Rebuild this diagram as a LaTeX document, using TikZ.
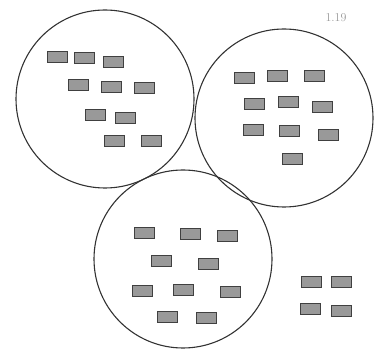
\documentclass[tikz,border=0pt]{standalone}
\begin{document}
\begin{tikzpicture}[x=1pt,y=-1pt,
  tile/.style={draw=black!75,line width=1pt,fill=black!40,minimum width=20pt,minimum height=10.5pt,inner sep=0pt},
  ring/.style={draw=black!80,line width=1.1pt,circle,minimum size=178pt,inner sep=0pt},
  figlabel/.style={text=black!40,font=\large}]
\useasboundingbox (0,0) rectangle (380,352);
\node[ring] (c1) at (105,99) {};
\node[ring] (c2) at (284,118) {};
\node[ring] (c3) at (183,259) {};
\node[figlabel] (lbl) at (336,18) {1.19};
% circle 1
\node[tile] (a1) at (57,57) {};
\node[tile] (a2) at (84,58) {};
\node[tile] (a3) at (113,62) {};
\node[tile] (a4) at (78,85) {};
\node[tile] (a5) at (111,87) {};
\node[tile] (a6) at (144,88) {};
\node[tile] (a7) at (95,115) {};
\node[tile] (a8) at (125,118) {};
\node[tile] (a9) at (114,141) {};
\node[tile] (a10) at (151,141) {};
% circle 2
\node[tile] (b1) at (244,78) {};
\node[tile] (b2) at (277,76) {};
\node[tile] (b3) at (314,76) {};
\node[tile] (b4) at (254,104) {};
\node[tile] (b5) at (288,102) {};
\node[tile] (b6) at (322,107) {};
\node[tile] (b7) at (253,130) {};
\node[tile] (b8) at (289,131) {};
\node[tile] (b9) at (328,135) {};
\node[tile] (b10) at (292,159) {};
% circle 3
\node[tile] (d1) at (144,233) {};
\node[tile] (d2) at (190,234) {};
\node[tile] (d3) at (227,236) {};
\node[tile] (d4) at (161,261) {};
\node[tile] (d5) at (208,264) {};
\node[tile] (d6) at (142,291) {};
\node[tile] (d7) at (183,290) {};
\node[tile] (d8) at (230,292) {};
\node[tile] (d9) at (167,317) {};
\node[tile] (d10) at (206,318) {};
% outside
\node[tile] (e1) at (311,282) {};
\node[tile] (e2) at (341,282) {};
\node[tile] (e3) at (310,309) {};
\node[tile] (e4) at (341,311) {};
\end{tikzpicture}
\end{document}
